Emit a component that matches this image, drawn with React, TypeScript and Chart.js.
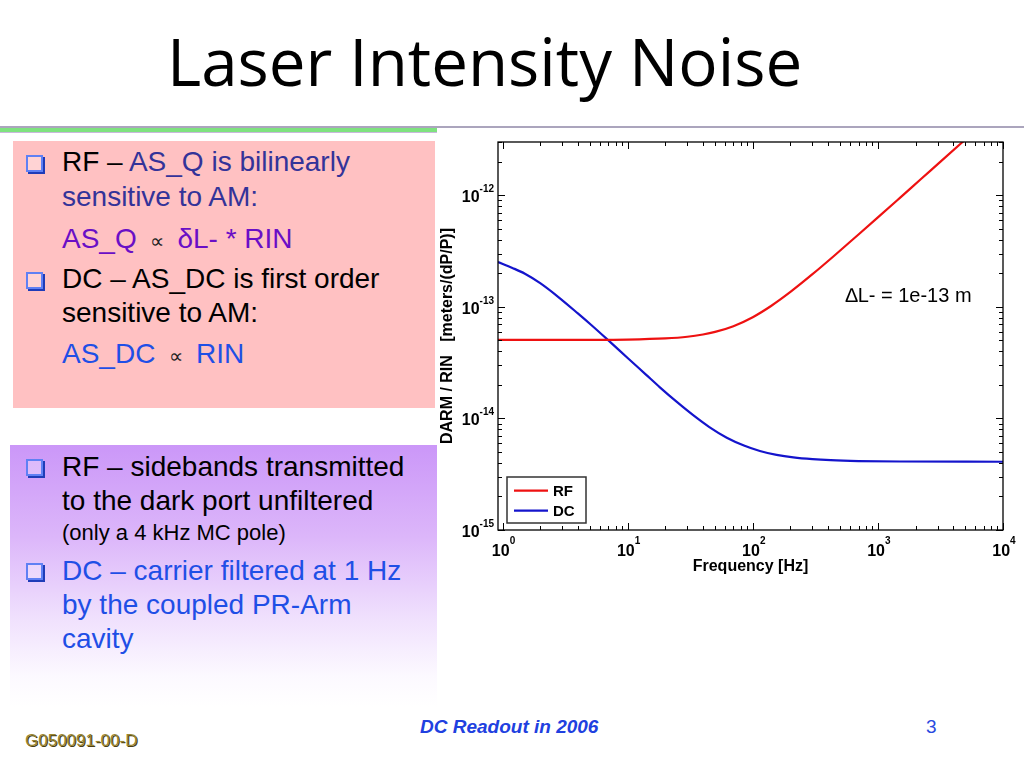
import React, { useEffect, useRef } from "react";
import { Chart, registerables } from "chart.js";

Chart.register(...registerables);

// ---------- chart data ----------
const rfFrequency = [0.92, 5, 10, 20, 30, 40, 50, 70, 100, 140, 200, 300, 450, 700, 1000, 1500, 2200, 3200, 4700, 6000];
const rfValues = [5.05e-14, 5.06e-14, 5.09e-14, 5.21e-14, 5.39e-14, 5.65e-14, 5.96e-14, 6.71e-14, 8.08e-14, 1.018e-13, 1.36e-13, 1.96e-13, 2.885e-13, 4.45e-13, 6.33e-13, 9.48e-13, 1.39e-12, 2.02e-12, 2.967e-12, 3.79e-12];

const dcFrequency = [0.92, 1.2, 1.51, 2.0, 2.78, 4.0, 5.12, 6.95, 10, 14, 18.1, 25, 33, 45, 62, 85, 114, 155, 211, 300, 420, 700, 1500, 10000];
const dcValues = [2.52e-13, 2.23e-13, 1.98e-13, 1.63e-13, 1.23e-13, 8.73e-14, 6.87e-14, 5.05e-14, 3.48e-14, 2.47e-14, 1.9e-14, 1.39e-14, 1.08e-14, 8.36e-15, 6.71e-15, 5.71e-15, 5.1e-15, 4.71e-15, 4.47e-15, 4.31e-15, 4.22e-15, 4.15e-15, 4.11e-15, 4.09e-15];

const seriesLabels = ["RF", "DC"];
const seriesColors = ["#ee1111", "#1414cc"];

const xMajorTicks = [1, 10, 100, 1000, 10000];
const xTickExponents = ["0", "1", "2", "3", "4"];
const yMajorTicks = [1e-15, 1e-14, 1e-13, 1e-12];
const yTickExponents = ["-15", "-14", "-13", "-12"];
const minorMultipliers = [2, 3, 4, 5, 6, 7, 8, 9];

const xRange = [0.92, 10000];
const yRange = [1e-15, 3e-12];

const xAxisTitle = "Frequency [Hz]";
const yAxisTitle = "DARM / RIN   [meters/(dP/P)]";
const annotationText = "\u2206L- = 1e-13 m";
const annotationAt = [550, 1.25e-13];

const FONT = '"Liberation Sans", Arial, Helvetica, sans-serif';

const matlabAxes = {
  id: "matlabAxes",
  afterDatasetsDraw(chart: any) {
    const { ctx, chartArea: a, scales } = chart;
    const xs = scales.x;
    const ys = scales.y;
    ctx.save();

    // tick marks (inward, all four sides)
    ctx.strokeStyle = "#000";
    ctx.lineWidth = 1;
    ctx.beginPath();
    const xt: [number, boolean][] = [];
    xMajorTicks.forEach((d) => {
      xt.push([d, true]);
      minorMultipliers.forEach((m) => xt.push([d * m, false]));
    });
    xt.forEach(([v, major]) => {
      if (v < xs.min || v > xs.max) return;
      const p = Math.round(xs.getPixelForValue(v)) + 0.5;
      const len = major ? 7 : 4;
      ctx.moveTo(p, a.bottom);
      ctx.lineTo(p, a.bottom - len);
      ctx.moveTo(p, a.top);
      ctx.lineTo(p, a.top + len);
    });
    const yt: [number, boolean][] = [];
    yMajorTicks.forEach((d) => {
      yt.push([d, true]);
      minorMultipliers.forEach((m) => yt.push([d * m, false]));
    });
    yt.forEach(([v, major]) => {
      if (v < ys.min * 0.999 || v > ys.max * 1.001) return;
      const p = Math.round(ys.getPixelForValue(v)) + 0.5;
      const len = major ? 7 : 4;
      ctx.moveTo(a.left, p);
      ctx.lineTo(a.left + len, p);
      ctx.moveTo(a.right, p);
      ctx.lineTo(a.right - len, p);
    });
    ctx.stroke();

    // plot box
    ctx.lineWidth = 1.3;
    ctx.strokeRect(a.left, a.top, a.right - a.left, a.bottom - a.top);

    // tick labels 10^n
    ctx.fillStyle = "#000";
    ctx.textBaseline = "alphabetic";
    ctx.textAlign = "left";
    const baseFont = `bold 16px ${FONT}`;
    const expFont = `bold 10px ${FONT}`;
    xMajorTicks.forEach((v, i) => {
      const p = xs.getPixelForValue(v);
      ctx.font = baseFont;
      const wb = ctx.measureText("10").width;
      ctx.font = expFont;
      const we = ctx.measureText(xTickExponents[i]).width;
      const x0 = p - (wb + we) / 2 + 1;
      ctx.font = baseFont;
      ctx.fillText("10", x0, a.bottom + 26);
      ctx.font = expFont;
      ctx.fillText(xTickExponents[i], x0 + wb, a.bottom + 14);
    });
    yMajorTicks.forEach((v, i) => {
      const p = ys.getPixelForValue(v);
      ctx.font = expFont;
      const we = ctx.measureText(yTickExponents[i]).width;
      ctx.font = baseFont;
      const wb = ctx.measureText("10").width;
      const xe = a.left - 4 - we;
      ctx.fillText("10", xe - wb, p + 7);
      ctx.font = expFont;
      ctx.fillText(yTickExponents[i], xe, p - 3);
    });

    // axis titles
    ctx.font = `bold 16px ${FONT}`;
    ctx.textAlign = "center";
    ctx.textBaseline = "middle";
    ctx.fillText(xAxisTitle, (a.left + a.right) / 2, a.bottom + 37);
    ctx.save();
    ctx.translate(a.left - 50, (a.top + a.bottom) / 2);
    ctx.rotate(-Math.PI / 2);
    ctx.fillText(yAxisTitle, 0, 0);
    ctx.restore();

    // annotation
    ctx.font = `20px ${FONT}`;
    ctx.textAlign = "left";
    ctx.fillText(annotationText, xs.getPixelForValue(annotationAt[0]), ys.getPixelForValue(annotationAt[1]));

    // legend
    const bx = a.left + 9;
    const bw = 79;
    const bh = 46;
    const by = a.bottom - 53;
    ctx.fillStyle = "#fff";
    ctx.fillRect(bx, by, bw, bh);
    ctx.strokeStyle = "#333";
    ctx.lineWidth = 1.5;
    ctx.strokeRect(bx, by, bw, bh);
    chart.data.datasets.forEach((ds: any, i: number) => {
      const yy = by + 13.7 + i * 20;
      ctx.strokeStyle = ds.borderColor;
      ctx.lineWidth = 2.2;
      ctx.beginPath();
      ctx.moveTo(bx + 7, yy);
      ctx.lineTo(bx + 41, yy);
      ctx.stroke();
      ctx.fillStyle = "#000";
      ctx.font = `bold 15px ${FONT}`;
      ctx.textAlign = "left";
      ctx.textBaseline = "middle";
      ctx.fillText(ds.label, bx + 46, yy + 1);
    });

    ctx.restore();
  },
};

function NoiseChart() {
  const ref = useRef<HTMLCanvasElement | null>(null);
  useEffect(() => {
    if (!ref.current) return;
    const chart = new Chart(ref.current, {
      type: "line",
      data: {
        datasets: [
          {
            label: seriesLabels[0],
            data: rfFrequency.map((f, i) => ({ x: f, y: rfValues[i] })),
            borderColor: seriesColors[0],
            borderWidth: 2.2,
            pointRadius: 0,
            cubicInterpolationMode: "monotone",
            fill: false,
          },
          {
            label: seriesLabels[1],
            data: dcFrequency.map((f, i) => ({ x: f, y: dcValues[i] })),
            borderColor: seriesColors[1],
            borderWidth: 2.2,
            pointRadius: 0,
            cubicInterpolationMode: "monotone",
            fill: false,
          },
        ],
      },
      options: {
        animation: false,
        responsive: false,
        maintainAspectRatio: false,
        layout: { padding: { left: 58, top: 12, right: 21, bottom: 60 } },
        plugins: { legend: { display: false }, tooltip: { enabled: false } },
        scales: {
          x: { type: "logarithmic", min: xRange[0], max: xRange[1], display: false },
          y: { type: "logarithmic", min: yRange[0], max: yRange[1], display: false },
        },
      },
      plugins: [matlabAxes],
    } as any);
    return () => chart.destroy();
  }, []);
  return (
    <canvas
      ref={ref}
      width={584}
      height={460}
      style={{ position: "absolute", left: 440, top: 130, width: 584, height: 460 }}
    />
  );
}

function Bullet({ cy }: { cy: number }) {
  return (
    <div
      style={{
        position: "absolute",
        left: 26,
        top: cy - 9,
        width: 13,
        height: 13,
        border: "2px solid #5f80f4",
        boxShadow: "2px 2px 0 #1f3cb8",
        background: "rgba(255,255,255,0.3)",
      }}
    />
  );
}

function Line({ cy, size = 28, color = "#000", children }: any) {
  const lh = Math.round(size * 1.2);
  return (
    <div
      style={{
        position: "absolute",
        left: 62,
        top: cy - Math.round(size * 0.64),
        fontFamily: FONT,
        fontSize: size,
        lineHeight: `${lh}px`,
        color,
        whiteSpace: "nowrap",
      }}
    >
      {children}
    </div>
  );
}

const INDIGO = "#333399";
const PURPLE = "#6a0fc6";
const BLUE = "#1f4fe6";

export default function App() {
  return (
    <div style={{ position: "absolute", left: 0, top: 0, width: 1024, height: 768, background: "#fff", overflow: "hidden" }}>
      {/* title */}
      <div
        style={{
          position: "absolute",
          left: 167,
          top: 28,
          fontFamily: '"Open Sans", sans-serif',
          fontSize: 65.5,
          lineHeight: "65px",
          color: "#000",
          whiteSpace: "nowrap",
        }}
      >
        Laser Intensity Noise
      </div>

      {/* separator */}
      <div style={{ position: "absolute", left: 0, top: 126, width: 1024, height: 2, background: "#aba5bd" }} />
      <div style={{ position: "absolute", left: 0, top: 128, width: 437, height: 4, background: "#7fe27f", borderBottom: "1px solid #c9b8dc" }} />

      {/* pink box */}
      <div style={{ position: "absolute", left: 13, top: 141, width: 422, height: 267, background: "#ffc1c2" }} />
      <Bullet cy={164} />
      <Line cy={163}>
        RF – <span style={{ color: INDIGO }}>AS_Q is bilinearly</span>
      </Line>
      <Line cy={198} color={INDIGO}>sensitive to AM:</Line>
      <Line cy={240} color={PURPLE}>
        AS_Q <span style={{ fontSize: 20, color: "#222" }}>&nbsp;∝&nbsp;</span> δL- * RIN
      </Line>
      <Bullet cy={281} />
      <Line cy={280}>DC – AS_DC is first order</Line>
      <Line cy={314}>sensitive to AM:</Line>
      <Line cy={355} color={BLUE}>
        AS_DC <span style={{ fontSize: 20, color: "#222" }}>&nbsp;∝&nbsp;</span> RIN
      </Line>

      {/* purple box */}
      <div
        style={{
          position: "absolute",
          left: 10,
          top: 445,
          width: 427,
          height: 262,
          background: "linear-gradient(to bottom, #cb97f8 0%, #dcb6fa 35%, #efdffd 65%, #fcf9ff 88%, #ffffff 100%)",
        }}
      />
      <Bullet cy={468} />
      <Line cy={468}>RF – sidebands transmitted</Line>
      <Line cy={502}>to the dark port unfiltered</Line>
      <Line cy={534} size={22}>(only a 4 kHz MC pole)</Line>
      <Bullet cy={572} />
      <Line cy={572} color={BLUE}>DC – carrier filtered at 1 Hz</Line>
      <Line cy={606} color={BLUE}>by the coupled PR-Arm</Line>
      <Line cy={640} color={BLUE}>cavity</Line>

      <NoiseChart />

      {/* footer */}
      <div
        style={{
          position: "absolute",
          left: 420,
          top: 715,
          fontFamily: FONT,
          fontSize: 19,
          fontWeight: "bold",
          fontStyle: "italic",
          color: "#2040e0",
          lineHeight: "24px",
          whiteSpace: "nowrap",
        }}
      >
        DC Readout in 2006
      </div>
      <div
        style={{
          position: "absolute",
          left: 926,
          top: 715,
          fontFamily: FONT,
          fontSize: 19,
          color: "#2a4ae0",
          lineHeight: "24px",
        }}
      >
        3
      </div>
      <div
        style={{
          position: "absolute",
          left: 25,
          top: 730,
          fontFamily: FONT,
          fontSize: 17,
          color: "#9a8632",
          lineHeight: "22px",
          textShadow: "1px 1px 0 #4a3f14",
          whiteSpace: "nowrap",
        }}
      >
        G050091-00-D
      </div>
    </div>
  );
}
